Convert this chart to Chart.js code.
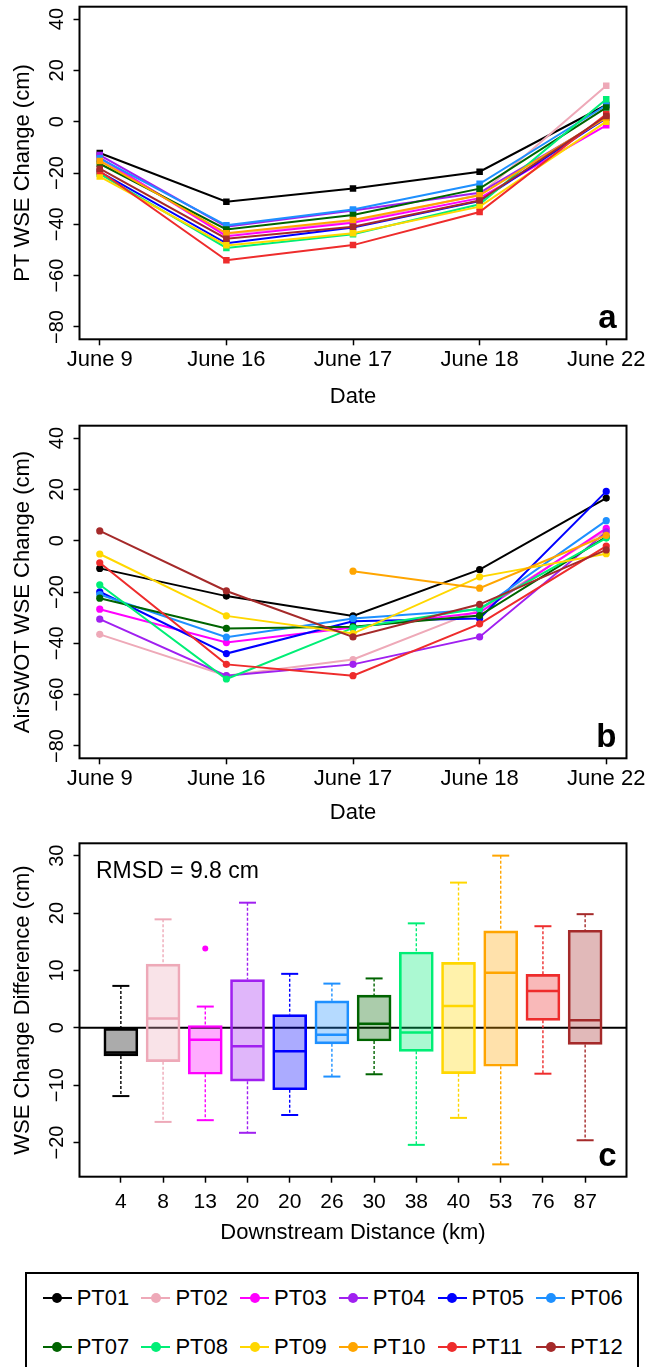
<!DOCTYPE html>
<html>
<head>
<meta charset="utf-8">
<script src="https://cdn.jsdelivr.net/npm/chart.js@4.4.1/dist/chart.umd.min.js"></script>
<style>
  html, body { margin: 0; padding: 0; background: #fff; }
  body { width: 646px; height: 1367px; position: relative; overflow: hidden;
         font-family: "Liberation Sans", Arial, Helvetica, sans-serif; }
  canvas { position: absolute; left: 0; }
  #legend { position: absolute; left: 25px; top: 1272px; width: 614px; height: 110px;
            border: 2px solid #000; box-sizing: border-box; }
  .item { position: absolute; height: 26px; display: flex; align-items: center;
          font-size: 22px; color: #000; white-space: nowrap; }
  .key { position: relative; width: 29px; height: 2px; margin-right: 5px; }
  .key i { position: absolute; left: 50%; top: 50%; width: 10px; height: 10px; border-radius: 50%;
           transform: translate(-50%, -50%); }
</style>
</head>
<body>
<canvas id="panelA" width="646" height="415" style="top:0px"></canvas>
<canvas id="panelB" width="646" height="416" style="top:415px"></canvas>
<canvas id="panelC" width="646" height="420" style="top:831px"></canvas>
<div id="legend"></div>

<script>
// ---- survey dates and gauges ----
const dates = ['June 9', 'June 16', 'June 17', 'June 18', 'June 22'];
const gaugeNames = ['PT01', 'PT02', 'PT03', 'PT04', 'PT05', 'PT06', 'PT07', 'PT08', 'PT09', 'PT10', 'PT11', 'PT12'];
const gaugeColors = ['#000000', '#EEA9B8', '#FF00FF', '#A020F0', '#0000FF', '#1E90FF',
                     '#006400', '#00EE76', '#FFD700', '#FFA500', '#EE2C2C', '#A52A2A'];

// ---- pressure transducer WSE change (cm) ----
const ptPT01 = [-12.2, -31.2, -26.0, -19.5, 6.5];
const ptPT02 = [-14.5, -43.8, -39.0, -28.5, 14.0];
const ptPT03 = [-14.0, -44.6, -39.4, -29.8, -1.4];
const ptPT04 = [-13.0, -40.9, -34.6, -27.7, 1.2];
const ptPT05 = [-19.6, -47.4, -41.2, -30.9, 1.5];
const ptPT06 = [-14.3, -40.4, -34.2, -24.2, 6.4];
const ptPT07 = [-16.4, -42.0, -36.4, -26.1, 5.5];
const ptPT08 = [-20.3, -49.2, -43.9, -32.2, 8.7];
const ptPT09 = [-21.4, -48.2, -43.5, -33.1, 0.0];
const ptPT10 = [-15.3, -43.5, -38.3, -28.7, 1.6];
const ptPT11 = [-19.2, -54.0, -48.1, -35.2, 2.9];
const ptPT12 = [-18.3, -45.6, -40.9, -30.7, 2.2];

// ---- AirSWOT WSE change (cm); PT10 not observed on the first two dates ----
const airPT01 = [-10.8, -21.6, -29.3, -11.3, 16.6];
const airPT02 = [-36.5, -52.6, -46.3, -27.0, 4.0];
const airPT03 = [-26.7, -39.7, -33.8, -28.0, 4.8];
const airPT04 = [-30.6, -52.6, -48.2, -37.5, 3.4];
const airPT05 = [-19.9, -44.0, -31.4, -30.3, 19.2];
const airPT06 = [-21.0, -37.6, -30.3, -26.8, 7.8];
const airPT07 = [-22.4, -34.2, -33.5, -29.2, 1.5];
const airPT08 = [-17.2, -53.9, -34.0, -26.4, 1.0];
const airPT09 = [-5.2, -29.3, -36.2, -14.1, -5.1];
const airPT10 = [null, null, -11.9, -18.5, 2.1];
const airPT11 = [-8.6, -48.2, -52.6, -32.4, -2.1];
const airPT12 = [3.8, -19.6, -37.5, -24.8, -3.6];

const changeTicks = [-80, -60, -40, -20, 0, 20, 40];

// ---- WSE change difference box statistics (cm), by downstream distance ----
const distanceLabels = ['4', '8', '13', '20', '20', '26', '30', '38', '40', '53', '76', '87'];
const diffLow    = [-11.9, -16.4, -16.1, -18.3, -15.2, -8.5, -8.1, -20.4, -15.7, -23.8, -8.0, -19.6];
const diffQ1     = [-4.9,  -5.9,  -8.1,  -9.3, -10.8, -2.8, -2.3,  -4.1,  -8.0,  -6.7,  1.3,  -2.9];
const diffMedian = [-4.3,   1.6,  -2.1,  -3.2,  -4.1, -1.2,  0.7,  -0.8,   3.8,   9.6,  6.4,   1.3];
const diffQ3     = [-0.1,  11.1,   0.4,   8.4,   2.3,  4.7,  5.7,  13.2,  11.4,  16.9,  9.3,  17.0];
const diffHigh   = [7.3,   18.9,   3.7,  21.8,   9.4,  7.7,  8.6,  18.2,  25.3,  30.0, 17.7,  19.8];
const outlierGauge = [2];
const outlierValue = [13.8];
const diffTicks = [-20, -10, 0, 10, 20, 30];
const rmsdText = 'RMSD = 9.8 cm';

const ptSeries  = [ptPT01, ptPT02, ptPT03, ptPT04, ptPT05, ptPT06, ptPT07, ptPT08, ptPT09, ptPT10, ptPT11, ptPT12];
const airSeries = [airPT01, airPT02, airPT03, airPT04, airPT05, airPT06, airPT07, airPT08, airPT09, airPT10, airPT11, airPT12];

// ---- shared styling ----
const FONT = "'Liberation Sans', Arial, Helvetica, sans-serif";
Chart.defaults.font.family = FONT;
Chart.defaults.color = '#000';
Chart.defaults.animation = false;

const withMinus = v => String(v).replace('-', '\u2212');
const hexAlpha = (hex, a) => {
  const n = parseInt(hex.slice(1), 16);
  return `rgba(${(n >> 16) & 255}, ${(n >> 8) & 255}, ${n & 255}, ${a})`;
};

// frame box, panel letter, optional zero line and note
const panelDecor = {
  id: 'panelDecor',
  beforeDatasetsDraw(chart, args, opts) {
    if (!opts.zeroLine) return;
    const {ctx, chartArea: a, scales: {y}} = chart;
    const py = y.getPixelForValue(0);
    ctx.save();
    ctx.strokeStyle = '#000';
    ctx.lineWidth = 2;
    ctx.beginPath();
    ctx.moveTo(a.left, py);
    ctx.lineTo(a.right, py);
    ctx.stroke();
    ctx.restore();
  },
  afterDraw(chart, args, opts) {
    const {ctx, chartArea: a} = chart;
    ctx.save();
    ctx.strokeStyle = '#000';
    ctx.lineWidth = 2;
    ctx.strokeRect(a.left, a.top, a.right - a.left, a.bottom - a.top);
    ctx.fillStyle = '#000';
    ctx.font = `bold 33px ${FONT}`;
    ctx.textAlign = 'right';
    ctx.textBaseline = 'alphabetic';
    ctx.fillText(opts.letter, a.right - 10, a.bottom - 11);
    if (opts.note) {
      ctx.font = `23px ${FONT}`;
      ctx.textAlign = 'left';
      ctx.textBaseline = 'middle';
      ctx.fillText(opts.note, a.left + 16.5, a.top + 28.4);
    }
    ctx.restore();
  }
};

const tickGrid = {
  drawOnChartArea: false, drawTicks: true, tickLength: 6,
  tickColor: '#000', tickWidth: 1.5, offset: false
};

function xAxisDates(axisHeight, tickPad, titlePad) {
  return {
    type: 'linear', min: 0.84, max: 5.16, offset: false,
    afterBuildTicks: s => { s.ticks = dates.map((d, i) => ({value: i + 1})); },
    ticks: {callback: v => dates[v - 1], font: {size: 22}, color: '#000',
            padding: tickPad, maxRotation: 0, minRotation: 0, autoSkip: false},
    grid: tickGrid,
    border: {display: false},
    title: {display: true, text: 'Date', font: {size: 22}, color: '#000',
            padding: {top: 0, bottom: titlePad}},
    afterFit: s => { s.height = axisHeight; s.paddingLeft = 0; s.paddingRight = 0; }
  };
}

function yAxis(min, max, tickValues, title) {
  return {
    type: 'linear', min, max,
    afterBuildTicks: s => { s.ticks = tickValues.map(v => ({value: v})); },
    ticks: {callback: v => withMinus(v), font: {size: 20}, color: '#000',
            minRotation: 90, maxRotation: 90, crossAlign: 'center', padding: -0.5},
    grid: tickGrid,
    border: {display: false},
    title: {display: true, text: title, font: {size: 22}, color: '#000', padding: {top: 9.8, bottom: 0}},
    afterFit: s => { s.width = 79.5; s.paddingTop = 0; s.paddingBottom = 0; }
  };
}

function lineChart(canvasId, series, pointStyle, radius, yTitle, letter, padTop, axisHeight, titlePad) {
  const datasets = series.map((vals, k) => ({
    label: gaugeNames[k],
    data: vals.map((v, i) => ({x: i + 1, y: v})),
    borderColor: gaugeColors[k],
    backgroundColor: gaugeColors[k],
    borderWidth: 2,
    pointStyle: pointStyle,
    pointRadius: radius,
    pointBorderWidth: 0,
    spanGaps: false,
    order: series.length - k
  }));
  return new Chart(document.getElementById(canvasId), {
    type: 'line',
    data: {datasets},
    options: {
      responsive: false,
      layout: {padding: {top: padTop, right: 19.5, bottom: 0, left: 0}},
      plugins: {legend: {display: false}, tooltip: {enabled: false}, panelDecor: {letter}},
      scales: {
        x: xAxisDates(axisHeight, 1.8, titlePad),
        y: yAxis(-84.8, 44.8, changeTicks, yTitle)
      }
    },
    plugins: [panelDecor]
  });
}

lineChart('panelA', ptSeries, 'rect', 4.6, 'PT WSE Change (cm)', 'a', 6.7, 75.7, 4.8);
lineChart('panelB', airSeries, 'circle', 3.6, 'AirSWOT WSE Change (cm)', 'b', 10.7, 72.7, 4.5);

// ---- box plot of change differences ----
const BOX_W = 34;
const whiskers = {
  id: 'whiskers',
  afterDatasetsDraw(chart) {
    const {ctx, scales: {x, y}} = chart;
    const seg = (x1, y1, x2, y2) => { ctx.beginPath(); ctx.moveTo(x1, y1); ctx.lineTo(x2, y2); ctx.stroke(); };
    diffMedian.forEach((m, i) => {
      const cx = x.getPixelForValue(i + 1);
      const cap = BOX_W / 4;
      ctx.save();
      ctx.strokeStyle = gaugeColors[i];
      ctx.lineWidth = 1.4;
      ctx.setLineDash([3, 2]);
      seg(cx, y.getPixelForValue(diffHigh[i]), cx, y.getPixelForValue(diffQ3[i]));
      seg(cx, y.getPixelForValue(diffQ1[i]), cx, y.getPixelForValue(diffLow[i]));
      ctx.setLineDash([]);
      ctx.lineWidth = 2;
      seg(cx - cap, y.getPixelForValue(diffHigh[i]), cx + cap, y.getPixelForValue(diffHigh[i]));
      seg(cx - cap, y.getPixelForValue(diffLow[i]), cx + cap, y.getPixelForValue(diffLow[i]));
      ctx.lineWidth = 2.5;
      const my = y.getPixelForValue(m);
      seg(cx - BOX_W / 2 + 1, my, cx + BOX_W / 2 - 1, my);
      ctx.restore();
    });
  }
};

new Chart(document.getElementById('panelC'), {
  type: 'bar',
  data: {
    datasets: [
      {
        type: 'bar',
        data: diffQ1.map((q, i) => ({x: i + 1, y: [q, diffQ3[i]]})),
        backgroundColor: gaugeColors.map(c => hexAlpha(c, 0.33)),
        borderColor: gaugeColors,
        borderWidth: 2,
        borderSkipped: false,
        barThickness: BOX_W,
        grouped: false
      },
      {
        type: 'scatter',
        data: outlierGauge.map((g, j) => ({x: g + 1, y: outlierValue[j]})),
        backgroundColor: outlierGauge.map(g => gaugeColors[g]),
        borderWidth: 0,
        pointRadius: 3
      }
    ]
  },
  options: {
    responsive: false,
    layout: {padding: {top: 12.3, right: 19.5, bottom: 0, left: 0}},
    plugins: {legend: {display: false}, tooltip: {enabled: false},
              panelDecor: {letter: 'c', zeroLine: true, note: rmsdText}},
    scales: {
      x: {
        type: 'linear', min: 0.02, max: 12.98, offset: false,
        afterBuildTicks: s => { s.ticks = distanceLabels.map((d, i) => ({value: i + 1})); },
        ticks: {callback: v => distanceLabels[v - 1], font: {size: 21}, color: '#000',
                padding: 6.5, maxRotation: 0, minRotation: 0, autoSkip: false},
        grid: tickGrid,
        border: {display: false},
        title: {display: true, text: 'Downstream Distance (km)', font: {size: 22}, color: '#000',
                padding: {top: 0, bottom: 4.5}},
        afterFit: s => { s.height = 74.3; s.paddingLeft = 0; s.paddingRight = 0; }
      },
      y: yAxis(-25.95, 32.15, diffTicks, 'WSE Change Difference (cm)')
    }
  },
  plugins: [panelDecor, whiskers]
});

// ---- shared legend ----
const legend = document.getElementById('legend');
gaugeNames.forEach((name, k) => {
  const row = Math.floor(k / 6), col = k % 6;
  const item = document.createElement('div');
  item.className = 'item';
  item.style.left = (15.7 + 98.7 * col) + 'px';
  item.style.top = (row === 0 ? 11 : 59.7) + 'px';
  const key = document.createElement('span');
  key.className = 'key';
  key.style.background = gaugeColors[k];
  const dot = document.createElement('i');
  dot.style.background = gaugeColors[k];
  key.appendChild(dot);
  item.appendChild(key);
  item.appendChild(document.createTextNode(name));
  legend.appendChild(item);
});
</script>
</body>
</html>
